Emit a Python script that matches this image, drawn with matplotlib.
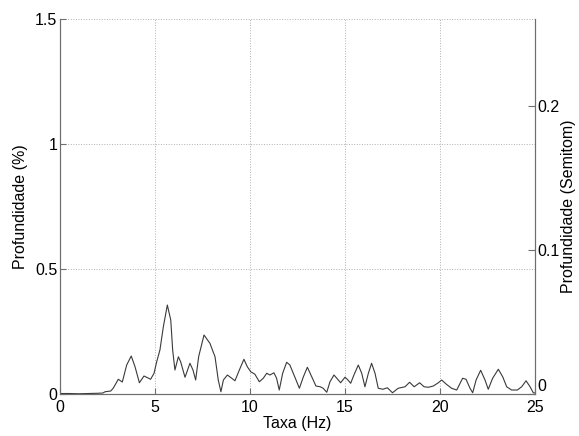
import matplotlib
matplotlib.use('Agg')
import matplotlib.pyplot as plt

# rate (Hz) vs depth (%)
taxa = [0.0, 0.5, 1.0, 1.5, 2.0, 2.26, 2.37, 2.67, 2.8, 3.07, 3.28, 3.51, 3.75, 3.95,
        4.18, 4.42, 4.56, 4.77, 4.95, 5.09, 5.26, 5.44, 5.65, 5.83, 5.93, 6.05, 6.23,
        6.35, 6.58, 6.84, 7.0, 7.14, 7.3, 7.58, 7.89, 8.16, 8.33, 8.47, 8.6, 8.81,
        9.04, 9.21, 9.44, 9.68, 9.86, 10.04, 10.26, 10.49, 10.7, 10.88, 11.05, 11.26,
        11.4, 11.54, 11.72, 11.93, 12.1, 12.37, 12.6, 12.81, 13.02, 13.25, 13.47, 13.7,
        13.85, 14.04, 14.21, 14.42, 14.65, 14.77, 15.0, 15.12, 15.3, 15.47, 15.7, 15.88,
        16.05, 16.23, 16.4, 16.58, 16.75, 17.0, 17.23, 17.5, 17.8, 18.16, 18.4, 18.64,
        18.93, 19.16, 19.39, 19.65, 19.91, 20.09, 20.32, 20.61, 20.88, 21.19, 21.37,
        21.58, 21.72, 21.9, 22.14, 22.37, 22.54, 22.77, 23.07, 23.3, 23.51, 23.77,
        24.07, 24.3, 24.53, 24.74, 24.91, 25.0]
profundidade = [0.002, 0.002, 0.001, 0.002, 0.003, 0.004, 0.009, 0.012, 0.023, 0.059,
                0.048, 0.116, 0.152, 0.109, 0.045, 0.072, 0.067, 0.059, 0.083, 0.129,
                0.176, 0.269, 0.356, 0.296, 0.176, 0.096, 0.149, 0.129, 0.067, 0.123,
                0.096, 0.056, 0.15, 0.236, 0.203, 0.149, 0.056, 0.009, 0.056, 0.076,
                0.063, 0.053, 0.096, 0.139, 0.109, 0.089, 0.079, 0.049, 0.063, 0.083,
                0.076, 0.085, 0.063, 0.016, 0.083, 0.127, 0.116, 0.066, 0.023, 0.069,
                0.107, 0.069, 0.032, 0.029, 0.023, 0.007, 0.049, 0.076, 0.056, 0.045,
                0.067, 0.059, 0.043, 0.076, 0.116, 0.083, 0.029, 0.083, 0.123, 0.083,
                0.023, 0.019, 0.025, 0.005, 0.023, 0.029, 0.047, 0.029, 0.045, 0.029,
                0.027, 0.032, 0.045, 0.056, 0.040, 0.023, 0.016, 0.063, 0.059, 0.023,
                0.005, 0.056, 0.095, 0.056, 0.019, 0.063, 0.099, 0.069, 0.029, 0.016,
                0.016, 0.029, 0.053, 0.029, 0.005, 0.004]

x_ticks = [0, 5, 10, 15, 20, 25]
y_ticks = [0, 0.5, 1, 1.5]
y2_ticks = [0, 0.1, 0.2]
y2_max = 0.2604

plt.rcParams['font.family'] = ['Liberation Sans', 'DejaVu Sans']
axis_color = '#6e6e6e'
fs = 11.5

fig = plt.figure(figsize=(5.79, 4.36), dpi=100)
ax = fig.add_axes([0.1036, 0.0963, 0.8204, 0.860])
ax.plot(taxa, profundidade, color='#3a3a3a', linewidth=0.8, solid_joinstyle='round')
ax.set_xlim(0, 25)
ax.set_ylim(0, 1.5)
ax.set_xticks(x_ticks)
ax.set_yticks(y_ticks)
ax.set_yticklabels(['0', '0.5', '1', '1.5'])
ax.grid(True, linestyle=':', color='#b0b0b0', linewidth=0.7)
ax.set_xlabel('Taxa (Hz)', fontsize=fs, labelpad=1)
ax.set_ylabel('Profundidade (%)', fontsize=fs, labelpad=5)
ax.tick_params(direction='in', length=4, colors='black', labelsize=fs, pad=2)
ax.tick_params(axis='x', pad=4)
ax.tick_params(color=axis_color)
ax.spines['top'].set_visible(False)
for s in ['left', 'bottom', 'right']:
    ax.spines[s].set_color(axis_color)

ax2 = ax.twinx()
ax2.set_ylim(0, y2_max)
ax2.set_yticks(y2_ticks)
ax2.set_yticklabels(['0', '0.1', '0.2'])
ax2.tick_params(direction='in', length=5, labelsize=fs, pad=2, color=axis_color)
ax2.set_ylabel('Profundidade (Semitom)', fontsize=fs, labelpad=1)
ax2.spines['top'].set_visible(False)
for s in ['left', 'bottom', 'right']:
    ax2.spines[s].set_color(axis_color)
# right-hand zero sits just above the corner, as in the reference
ax2.get_yticklabels()[0].set_verticalalignment('bottom')

fig.savefig('out.png', dpi=100)
